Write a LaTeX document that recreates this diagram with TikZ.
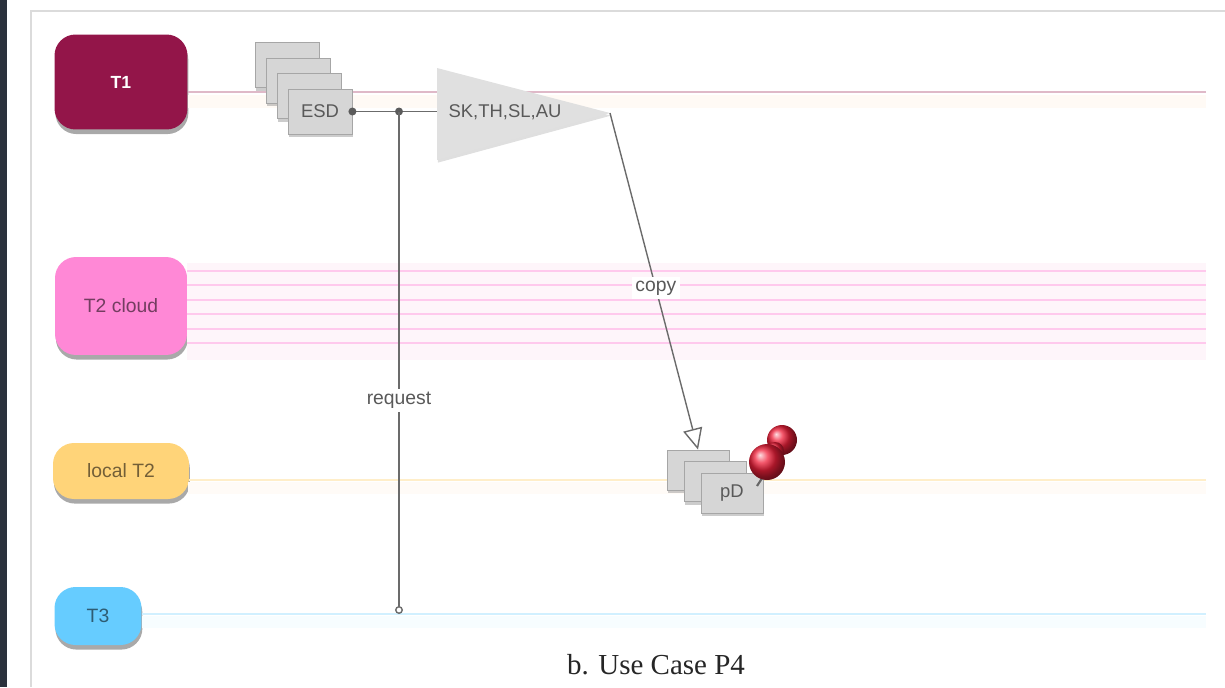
\documentclass[tikz,border=0pt]{standalone}
\usepackage{fontspec}
\setmainfont{Liberation Sans}
\newfontfamily\captionserif{Liberation Serif}
\usetikzlibrary{shadows,arrows.meta}

\definecolor{tierone}{HTML}{931549}
\definecolor{tiercloud}{HTML}{FF88D6}
\definecolor{tierlocal}{HTML}{FFD479}
\definecolor{tierthree}{HTML}{66CCFF}
\definecolor{pagedark}{HTML}{2B323D}
\definecolor{wire}{HTML}{6B6B6B}
\definecolor{pinred}{HTML}{F0203A}

\tikzset{
  tier/.style={fill=#1, rounded corners=0.42cm, text=#1!45!black,
    font=\fontsize{11}{13}\selectfont,
    drop shadow={shadow xshift=0.5pt, shadow yshift=-2.6pt, opacity=0.45, fill=black!75}},
  lane/.style={draw=#1, line width=0.9pt},
  file/.style={draw=black!35, fill=black!16, line width=0.5pt, text=black!65,
    minimum width=1.28cm, minimum height=0.9cm, font=\fontsize{10.5}{12}\selectfont,
    drop shadow={shadow xshift=0.6pt, shadow yshift=-1.8pt, opacity=0.4}},
  link/.style={draw=wire, line width=0.8pt},
  tag/.style={fill=white, text=black!65, inner sep=2pt, font=\fontsize{11}{13}\selectfont},
}

\begin{document}
\begin{tikzpicture}[x=0.02cm, y=-0.02cm]
  \useasboundingbox (0,0) rectangle (1225,687);
  \fill[pagedark] (0,0) rectangle (7,687);
  \draw[black!14, line width=1.6pt] (31,687) -- (31,11) -- (1225,11);

  % tiers
  \node[tier=tierone, text=white, font=\bfseries\fontsize{10}{12}\selectfont,
    minimum width=2.66cm, minimum height=1.9cm] (t1) at (121,82) {T1};
  \node[tier=tiercloud, minimum width=2.64cm, minimum height=1.96cm] (t2) at (121,306) {T2 cloud};
  \node[tier=tierlocal, minimum width=2.72cm, minimum height=1.12cm] (lt2) at (121,471) {local T2};
  \node[tier=tierthree, minimum width=1.74cm, minimum height=1.16cm] (t3) at (98,616) {T3};

  % lanes
  \fill[orange!4] (188,95) rectangle (1206,108);
  \fill[magenta!4] (187,263) rectangle (1206,360);
  \fill[orange!3] (188,482) rectangle (1206,494);
  \fill[cyan!3] (142,616) rectangle (1206,628);
  \coordinate (t1end) at (1206,92);
  \draw[lane=tierone!30, line width=1.2pt] (t1end -| t1.east) -- (t1end);
  \foreach \y [count=\i] in {271,285,300,314,329,343} {
    \coordinate (t2end\i) at (1206,\y);
    \draw[lane=tiercloud!45] (t2end\i -| t2.east) -- (t2end\i);
  }
  \coordinate (lt2end) at (1206,480);
  \draw[lane=tierlocal!40] (lt2end -| lt2.east) -- (lt2end);
  \coordinate (t3end) at (1206,614);
  \draw[lane=tierthree!30] (t3end -| t3.east) -- (t3end);

  % datasets, the front one carries the label
  \foreach \i in {0,1,2}
    \node[file] (esd\i) at (287+11*\i, 65+15.5*\i) {};
  \node[file] (esd3) at (320,111.5) {ESD};
  \foreach \i in {0,1}
    \node[file, minimum width=1.24cm, minimum height=0.8cm] (pd\i) at (698+17*\i, 470+11.5*\i) {};
  \node[file, minimum width=1.24cm, minimum height=0.8cm] (pd2) at (732,493) {pD};

  % skimming step
  \coordinate (amp-top) at (437,68);
  \coordinate (amp-bot) at (437,160);
  \coordinate (amp-tip) at (610,113);
  \fill[black!12, drop shadow={shadow xshift=0.5pt, shadow yshift=-1.5pt, opacity=0.25}]
    (amp-top) -- (amp-tip) -- (amp-bot) -- cycle;
  \node[text=black!65, font=\fontsize{10.5}{12}\selectfont] (skim) at (505,112) {SK,TH,SL,AU};

  \coordinate (split) at (399,111.5);
  \coordinate (t3tap) at (399,610);
  \draw[link] (esd3.east) -- (split) -- (amp-top |- split);
  \fill[wire!85!black] (esd3.east) circle (0.08cm) (split) circle (0.08cm);
  \draw[link] (split) -- node[tag, pos=0.58] {request} (t3tap);
  \draw[link, fill=white] (t3tap) circle (0.065cm);
  \draw[link, -{Triangle[open, length=12pt, width=11pt]}] (amp-tip)
    -- node[tag, pos=0.52] {copy} (pd0.north);

  % pin
  \draw[black!60, line width=1.2pt] (757,486) -- (770,466);
  \shade[ball color=pinred] (782,440) circle (0.3cm);
  \shade[ball color=pinred] (775,451) circle (0.18cm);
  \shade[ball color=pinred] (767,462) circle (0.36cm);

  \node[font=\captionserif\fontsize{16.5}{18}\selectfont, text=black!85] (caption) at (656,665) {b. Use Case P4};
\end{tikzpicture}
\end{document}
